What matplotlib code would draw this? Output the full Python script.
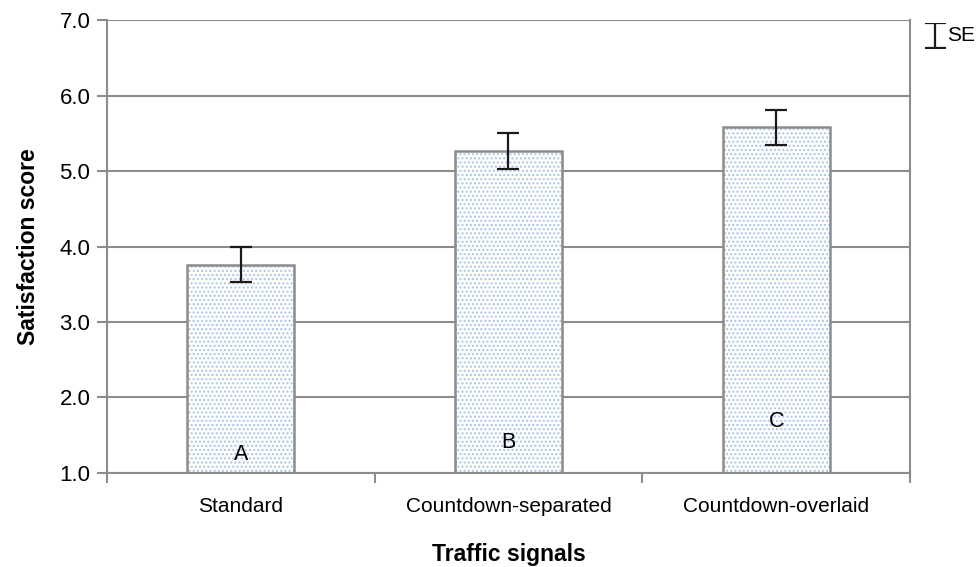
import matplotlib.pyplot as plt
import numpy as np

plt.rcParams['font.family'] = ['Liberation Sans', 'DejaVu Sans']
plt.rcParams['hatch.linewidth'] = 1.0

# 数据
signals = ['Standard', 'Countdown-separated', 'Countdown-overlaid']
scores = [3.76, 5.26, 5.58]
se = [0.23, 0.24, 0.23]
groups = ['A', 'B', 'C']
group_y = [1.24, 1.40, 1.68]

grey = '#8c8c8c'
x = np.arange(len(signals))

fig = plt.figure(figsize=(9.79, 5.67), dpi=100)
ax = fig.add_axes([0.1093, 0.1658, 0.8202, 0.7989])

ax.yaxis.grid(True, color=grey, linewidth=1.5, zorder=0)
ax.set_axisbelow(True)

# 点状填充（浅蓝）+ 灰色边框
ax.bar(x, scores, width=0.4, color='white', edgecolor='#aac4e6',
       hatch='....', linewidth=0, zorder=2)
ax.bar(x, scores, width=0.4, color='none', edgecolor=grey, linewidth=1.8, zorder=3)
ax.errorbar(x, scores, yerr=se, fmt='none', ecolor='#1a1a1a', elinewidth=1.6,
            capsize=8, capthick=1.6, zorder=4)

for xi, g, gy in zip(x, groups, group_y):
    ax.text(xi, gy, g, ha='center', va='center', fontsize=15.5, zorder=5)

ax.set_xlim(-0.5, 2.5)
ax.set_ylim(1.0, 7.0)
ax.set_yticks(np.arange(1, 8, 1))
ax.set_yticklabels(['%.1f' % v for v in np.arange(1, 8, 1)], fontsize=16)
ax.set_xticks(x)
ax.set_xticklabels(signals, fontsize=15)
ax.set_xticks([-0.5, 0.5, 1.5, 2.5], minor=True)
ax.tick_params(axis='x', which='major', length=0, pad=17)
ax.tick_params(axis='x', which='minor', length=7, width=1.5, color=grey, direction='out')
ax.tick_params(axis='y', length=7, width=1.5, color=grey, pad=5)

for s in ['left', 'bottom', 'right']:
    ax.spines[s].set_color(grey)
    ax.spines[s].set_linewidth(1.5)
ax.spines['top'].set_visible(False)

ax.set_xlabel('Traffic signals', fontsize=16.5, fontweight='bold')
ax.xaxis.set_label_coords(0.5, -0.155)
ax.set_ylabel('Satisfaction score', fontsize=16.5, fontweight='bold', labelpad=14)

# 右上角 SE 图例
lax = fig.add_axes([0.945, 0.915, 0.02, 0.045])
lax.errorbar([0], [0], yerr=[1], fmt='none', ecolor='#1a1a1a', elinewidth=1.6,
             capsize=8, capthick=1.6)
lax.set_xlim(-1, 1)
lax.set_ylim(-1.05, 1.05)
lax.axis('off')
fig.text(0.967, 0.937, 'SE', fontsize=15, va='center', ha='left')

plt.savefig('out.png', dpi=100)
